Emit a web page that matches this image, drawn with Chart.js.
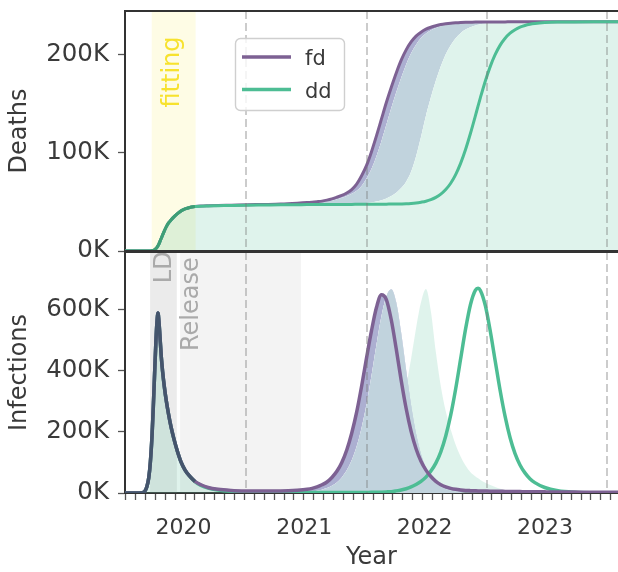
<!DOCTYPE html>
<html><head><meta charset="utf-8">
<script src="https://cdn.jsdelivr.net/npm/chart.js@4.4.1/dist/chart.umd.min.js"></script>
<style>
html,body{margin:0;padding:0;background:#fff;width:618px;height:572px;overflow:hidden;}
#top{position:absolute;left:0;top:0;width:618px;height:272px;}
#bot{position:absolute;left:0;top:245px;width:618px;height:327px;}
</style></head><body>
<canvas id="top" width="618" height="272"></canvas>
<canvas id="bot" width="618" height="327"></canvas>
<script>
// ---------------- data (x: days since 2019-07-10, y: thousands) ----------------
const days = [-2,30,50,58,64,70,75,80,84,88, 92,95,98,101,104,108,112,117,123,130, 138,147,157,168,180,194,210,228,250,280, 320,370,420,470,520,
  550,565,580,595,610,625,640,655,670,685, 700,715,730,745,760,775,790,805,820,835, 850,865,880,895,910,925,940,955,970,985, 1000,1015,1030,1045,1060,1068,1075,1090,1105,1120,1135, 1150,1165,1180,1195,1210,1225,1240,
  1270,1310,1360,1420,1496];

const seriesNames = ['fd','dd'];

// cumulative deaths (K)
const fdDeaths = [0,0,0,0,0,0,0.1,0.3,0.6,1.3, 2.5,3.8,5.3,7.3,9.8,13,16.3,20.3,24.5,28.5, 31.8,35,38,40.8,42.8,44.3,45.2,45.7,46,46.3, 46.6,47,47.3,47.7,48.6,
  49.3,49.6,50.1,50.7,51.7,53,54.7,56.5,59,62.5, 68,76.5,87,101,117,134,151,166.5,181,194, 204.5,212.5,218.5,222.5,225.5,227.5,229,230.2,231,231.6, 232,232.3,232.5,232.6,232.7,232.75,232.8,232.8,232.9,232.9,232.9, 232.9,233,233,233,233,233,233,
  233,233,233,233,233];
const ddDeaths = [0,0,0,0,0,0,0.1,0.3,0.6,1.3, 2.5,3.8,5.3,7.3,9.8,13,16.3,20.3,24.5,28.5, 31.8,35,38,40.8,42.8,44.3,45.2,45.6,45.8,46, 46.3,46.6,46.8,47,47.1,
  47.2,47.2,47.25,47.25,47.3,47.3,47.35,47.35,47.4,47.4, 47.45,47.5,47.5,47.55,47.6,47.6,47.65,47.7,47.75,47.85, 48,48.3,48.8,49.6,50.6,52.2,54.5,57.8,62.5,68.9, 77.7,89.1,103.2,119.7,137.7,147.5,155.9,172.9,187.7,199.8,209.3, 216.3,221.4,225,227.6,229.3,230.5,231.3,
  232.2,232.7,232.9,233,233];
// edges of the shaded ranges (deaths)
const deathsBandA = [0,0,0,0,0,0,0.1,0.3,0.6,1.3, 2.5,3.8,5.3,7.3,9.8,13,16.3,20.3,24.5,28.5, 31.8,35,38,40.8,42.8,44.3,45.2,45.7,46,46.3, 46.6,47,47.3,47.7,48.6,
  48.8,49.2,49.5,49.9,50.5,51.4,52.6,54.1,55.9,58.2, 61.3,66.2,73.7,83.5,96.3,111.7,128.3,145.3,161.3,176.2, 189.7,201,209.8,216.5,221.2,224.5,226.8,228.5,229.8,230.7, 231.4,231.9,232.2,232.45,232.55,232.6,232.65,232.75,232.8,232.85,232.9, 232.9,233,233,233,233,233,233,
  233,233,233,233,233];
const deathsBandB = [0,0,0,0,0,0,0.1,0.3,0.6,1.3, 2.5,3.8,5.3,7.3,9.8,13,16.3,20.3,24.5,28.5, 31.8,35,38,40.8,42.8,44.3,45.2,45.6,45.8,46, 46.3,46.6,46.8,47,47.1,
  47.2,47.25,47.3,47.35,47.4,47.45,47.5,47.6,47.7,47.85, 48,48.3,48.7,49.3,50.2,51.5,53.3,55.8,59.3,64, 70.5,80.5,96,115.8,137.5,156.2,173.1,187.8,200,209.3, 216.4,221.5,225.1,227.6,229.3,230,230.5,231.3,231.9,232.2,232.5, 232.7,232.8,232.85,232.9,232.9,232.95,233,
  233,233,233,233,233];

// infections (K)
const fdInf = [0,0,1,6,20,50,103,190,288,399, 505,562,590,560,513,446,398,350,303,258, 214,174,136,101,75,55,38,27,18,12, 8.5,6.8,6.2,6.5,9,
  12,15,20,27,36,51,71,100,141,196, 265,350,443,532,608,650,634,567,472,369, 277,202,145,104,75,54,38,27,20,15, 12,10,8.5,7.7,7.1,6.8,6.6,6.3,6,5.8,5.5, 5.3,5,4.8,4.6,4.4,4.2,4,
  3.7,3.3,3,2.6,2.2];
const ddInf = [0,0,1,6,20,50,103,190,288,399, 505,562,590,560,513,446,398,350,303,258, 214,174,136,101,75,55,37,25,16,10, 6,4,3,2.2,1.8,
  1.6,1.5,1.5,1.5,1.5,1.5,1.5,1.5,1.5,1.5, 1.5,1.7,1.9,2.1,2.4,2.8,3.5,4.5,7,10, 14,20,28,38,52,72,98,135,187,255, 341,439,537,618,665,671,664,614,530,432,335, 250,181,129,92,66,47,34,
  18,7.5,2.5,0.8,0.2];
const infBandA = [0,0,0,0,0,0,0,0,0,0, 0,0,0,0,0,0,0,0,0,0, 0,0,0,0,0,0,0,0,0,0, 0,0,0.4,1,2.2,
  3.3,5,7.5,11,16.2,23.7,34.7,51.2,74.5,107, 153,214,292,385,486,579,645,668,625,525, 403,288,195,128,82,52,32.5,20.4,12.8,8, 4.8,3,1.9,1.2,0.8,0.6,0.5,0.3,0.2,0.1,0, 0,0,0,0,0,0,0,
  0,0,0,0,0];
const infBandB = [0,0,1,6,20,50,103,190,288,399, 505,562,590,560,513,446,398,350,303,258, 214,174,136,101,75,55,37,25,16,10, 6,4,3.2,2.8,2.6,
  2.8,2.9,3.1,3.4,3.8,4.3,5.5,6.7,8.5,11, 14.5,20,27.5,38,53,76,108,150,205,270, 350,440,540,625,669,595,462,350,268,208, 158,120,90,68,54,48,43,34,26,19.5,14, 10,7,5,3.5,2.5,1.7,1.2,
  0.6,0.2,0,0,0];

const deathTicks = [0,100,200];
const infTicks = [0,200,400,600];
const yearLabels = ['2020','2021','2022','2023'];
const minorTickStep = 30;
const dashedDays = [365,730,1095,1460];
const fittingWindow = [79,212];
const ldWindow = [74,155];
const releaseWindow = [165,531];
const fitEnd = 212;

// ---------------- styling ----------------
const FONT = 'DejaVu Sans';
const TXT = '#3a3a3a';
const PURPLE = '#7d6193', GREEN = '#4dbd94';
const LIGHT_GREEN = 'rgba(77,189,148,0.18)';
const BLUEGRAY = 'rgb(193,211,221)';
const LAVENDER = 'rgb(172,175,209)';
const SPINE = '#333333';
Chart.defaults.font.family = FONT;

const pts = arr => days.map((d,i)=>({x:d,y:arr[i]}));
const early = arr => days.map((d,i)=>({x:d,y:arr[i]})).filter(p=>p.x<=fitEnd);
function yearDay(y){ return Math.round((Date.UTC(+y,0,1)-Date.UTC(2019,6,10))/864e5); }

function xScale(show){
  return {
    type:'linear', min:-2, max:1492, display:show,
    afterBuildTicks: s => {
      const t=[];
      for(let d=0; d<=s.max; d+=minorTickStep) t.push({value:d});
      yearLabels.forEach(y=>t.push({value:yearDay(y), yr:true}));
      t.sort((a,b)=>a.value-b.value);
      s.ticks=t;
    },
    afterFit: s => { if(show) s.height=79; s.paddingLeft=0; s.paddingRight=0; s.paddingTop=0; s.paddingBottom=0; },
    ticks:{autoSkip:false, maxRotation:0, minRotation:0, padding:15, color:TXT, font:{family:FONT,size:22},
      callback:v=>{ const i=yearLabels.findIndex(y=>yearDay(y)===v); return i>=0?yearLabels[i]:''; }},
    grid:{display:true, drawOnChartArea:false, drawTicks:true, tickLength:7, tickWidth:1.3,
      tickColor:c=>(c.tick&&c.tick.yr)?'rgba(0,0,0,0)':'#555'},
    border:{display:true,color:SPINE,width:2},
    title:{display:true,text:'Year',color:TXT,font:{family:FONT,size:24},padding:{top:0,bottom:0}}
  };
}
function yScale(max,tickVals,title){
  return {
    type:'linear', min:0, max:max,
    afterBuildTicks: s => { s.ticks = tickVals.map(v=>({value:v})); },
    afterFit: s => { s.width=125; s.paddingTop=0; s.paddingBottom=0; s.paddingLeft=0; s.paddingRight=0; },
    ticks:{color:TXT, font:{family:FONT,size:24.5}, padding:9, callback:v=>v+'K'},
    grid:{display:true, drawOnChartArea:false, drawTicks:true, tickLength:7, tickWidth:1.3, tickColor:'#555'},
    border:{display:true,color:SPINE,width:2},
    title:{display:true,text:title,color:TXT,font:{family:FONT,size:24},padding:{top:5.5,bottom:0}}
  };
}

function decoPlugin(opts){
  return {
    id:'deco'+Math.random().toString(36).slice(2),
    beforeDatasetsDraw(chart){
      const {ctx, chartArea:a, scales:{x}} = chart;
      ctx.save();
      opts.bands.forEach(b=>{
        const x0=x.getPixelForValue(b.range[0]), x1=x.getPixelForValue(b.range[1]);
        ctx.fillStyle=b.color; ctx.fillRect(x0,a.top,x1-x0,a.bottom-a.top);
      });
      ctx.restore();
    },
    afterDatasetsDraw(chart){
      const {ctx, chartArea:a, scales:{x,y}} = chart;
      ctx.save();
      ctx.strokeStyle='rgba(120,120,120,0.38)'; ctx.lineWidth=2; ctx.setLineDash([8,4]);
      dashedDays.forEach(d=>{
        const px=Math.round(x.getPixelForValue(d));
        ctx.beginPath(); ctx.moveTo(px,a.top); ctx.lineTo(px,a.bottom); ctx.stroke();
      });
      ctx.setLineDash([]);
      opts.texts.forEach(t=>{
        ctx.save();
        ctx.translate(x.getPixelForValue(t.x), y.getPixelForValue(t.y));
        ctx.rotate(-Math.PI/2);
        ctx.font='24px "'+FONT+'"'; ctx.fillStyle=t.color;
        ctx.textAlign='center'; ctx.textBaseline='middle';
        ctx.fillText(t.text,0,0);
        ctx.restore();
      });
      ctx.restore();
    },
    afterDraw(chart){
      const {ctx, chartArea:a} = chart;
      ctx.save();
      ctx.strokeStyle=SPINE; ctx.lineWidth=2;
      ctx.beginPath(); ctx.moveTo(a.left-1,a.top); ctx.lineTo(a.right,a.top); ctx.stroke();
      if(opts.bottomSpine){ ctx.beginPath(); ctx.moveTo(a.left-1,a.bottom); ctx.lineTo(a.right,a.bottom); ctx.stroke(); }
      if(opts.legend){
        const ds=chart.data.datasets;
        ctx.beginPath(); ctx.roundRect(235.5,38.5,109,72,5);
        ctx.fillStyle='rgba(255,255,255,0.8)'; ctx.fill();
        ctx.strokeStyle='#cfcfcf'; ctx.lineWidth=1.4; ctx.stroke();
        [0,1].forEach(i=>{
          const yy=[57,89.5][i];
          ctx.strokeStyle=ds[i].borderColor; ctx.lineWidth=3.5;
          ctx.beginPath(); ctx.moveTo(242,yy); ctx.lineTo(291,yy); ctx.stroke();
          ctx.fillStyle=TXT; ctx.font='21px "'+FONT+'"'; ctx.textBaseline='alphabetic'; ctx.textAlign='left';
          ctx.fillText(ds[i].label,305,yy+8);
        });
      }
      ctx.restore();
    }
  };
}

const lineDefaults = {pointRadius:0, cubicInterpolationMode:'monotone'};

// ---------------- top: deaths ----------------
new Chart(document.getElementById('top'), {
  type:'line',
  data:{datasets:[
    {...lineDefaults, label:seriesNames[0], data:pts(fdDeaths), borderColor:PURPLE, borderWidth:3,
      fill:{target:3, above:LAVENDER, below:'rgba(0,0,0,0)'}, order:2},
    {...lineDefaults, label:seriesNames[1], data:pts(ddDeaths), borderColor:GREEN, borderWidth:3, fill:false, order:1},
    {...lineDefaults, label:'bandB', data:pts(deathsBandB), borderWidth:0, borderColor:'rgba(0,0,0,0)',
      backgroundColor:LIGHT_GREEN, fill:'origin', order:10},
    {...lineDefaults, label:'bandA', data:pts(deathsBandA), borderWidth:0, borderColor:'rgba(0,0,0,0)',
      fill:{target:2, above:BLUEGRAY, below:'rgba(0,0,0,0)'}, order:9},
    {...lineDefaults, label:'fit', data:early(ddDeaths), borderColor:'rgb(62,158,118)', borderWidth:3, fill:false, order:0}
  ]},
  options:{
    responsive:false, animation:false, events:[],
    layout:{padding:{top:11,bottom:21,left:0,right:0}},
    plugins:{legend:{display:false}, tooltip:{enabled:false}},
    scales:{x:xScale(false), y:yScale(244,deathTicks,'Deaths')}
  },
  plugins:[decoPlugin({
    bands:[{range:fittingWindow, color:'rgba(250,228,40,0.12)'}],
    texts:[{text:'fitting', x:142, y:182, color:'#f7e22e'}],
    bottomSpine:true, legend:true
  })]
});

// ---------------- bottom: infections ----------------
const lavTop = fdInf.map((v,i)=> days[i] < 540 ? infBandA[i] : v);
new Chart(document.getElementById('bot'), {
  type:'line',
  data:{datasets:[
    {...lineDefaults, label:seriesNames[0], data:pts(fdInf), borderColor:PURPLE, borderWidth:3.5, fill:false, order:2},
    {...lineDefaults, label:seriesNames[1], data:pts(ddInf), borderColor:GREEN, borderWidth:3.5, fill:false, order:3},
    {...lineDefaults, label:'bandB', data:pts(infBandB), borderWidth:0, borderColor:'rgba(0,0,0,0)',
      backgroundColor:LIGHT_GREEN, fill:'origin', order:10},
    {...lineDefaults, label:'bandA', data:pts(infBandA), borderWidth:0, borderColor:'rgba(0,0,0,0)',
      backgroundColor:BLUEGRAY, fill:'origin', order:9},
    {...lineDefaults, label:'lav', data:pts(lavTop), borderWidth:0, borderColor:'rgba(0,0,0,0)',
      fill:{target:3, above:LAVENDER, below:'rgba(0,0,0,0)'}, order:8},
    {...lineDefaults, label:'fit', data:early(fdInf), borderColor:'rgb(68,85,108)', borderWidth:3.5, fill:false, order:0}
  ]},
  options:{
    responsive:false, animation:false, events:[],
    layout:{padding:{top:7,bottom:0,left:0,right:0}},
    plugins:{legend:{display:false}, tooltip:{enabled:false}},
    scales:{x:xScale(true), y:yScale(790,infTicks,'Infections')}
  },
  plugins:[decoPlugin({
    bands:[{range:ldWindow, color:'rgba(128,128,128,0.16)'},{range:releaseWindow, color:'rgba(128,128,128,0.095)'}],
    texts:[{text:'LD', x:118, y:740, color:'#aaaaaa'},{text:'Release', x:201, y:619, color:'#aaaaaa'}],
    bottomSpine:false, legend:false
  })]
});
</script>
</body></html>
